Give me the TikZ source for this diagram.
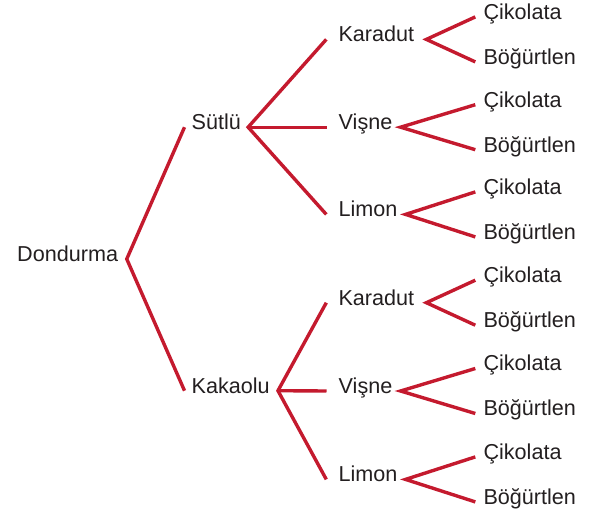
\documentclass[tikz,border=0pt]{standalone}
\usepackage{fontspec}
\setmainfont{Liberation Sans}
\definecolor{treered}{HTML}{C41A2E}
\definecolor{txtgray}{HTML}{231F20}
\begin{document}
\begin{tikzpicture}[x=1pt,y=-1pt,
  lbl/.style={anchor=base west, inner sep=0pt, text height=0.46em, text depth=0pt,
    text=txtgray, font=\fontsize{21.6}{26}\selectfont},
  br/.style={draw=treered, line width=3.4pt, line join=miter}]
\useasboundingbox (0,0) rectangle (607,511);
% levels
\node[lbl] (d) at (17,261.3) {Dondurma};
\node[lbl] (s) at (191.5,129.5) {Sütlü};
\node[lbl] (k) at (191.5,393) {Kakaolu};
\node[lbl] (s1) at (338.3,41.7) {Karadut};
\node[lbl] (s2) at (338.5,129.5) {Vişne};
\node[lbl] (s3) at (338.3,216.7) {Limon};
\node[lbl] (k1) at (338.3,305) {Karadut};
\node[lbl] (k2) at (338.5,393.3) {Vişne};
\node[lbl] (k3) at (338.3,481.7) {Limon};
% leaves
\foreach \p/\b in {s1/41.7, s2/129.5, s3/216.7, k1/305, k2/393.3, k3/481.7}{
  \node[lbl] (\p c) at (483.3,\b-22.5) {Çikolata};
  \node[lbl] (\p b) at (483.3,\b+22.5) {Böğürtlen};
}
% connectors
\draw[br] ([xshift=-7pt]s.west) -- ([xshift=8.5pt]d.east) -- ([xshift=-7pt]k.west);
\draw[br] ([xshift=-12pt]s1.west) -- ([xshift=7pt]s.east) -- ([xshift=-12pt]s3.west);
\draw[br] ([xshift=7pt]s.east) -- ([xshift=-12pt]s2.west);
\draw[br] ([xshift=-12pt]k1.west) -- ([xshift=8pt]k.east) -- ([xshift=-12pt]k3.west);
\draw[br] ([xshift=8pt]k.east) -- ([xshift=-12pt]k2.west);
\foreach \p/\g in {s1/12, s2/8, s3/8, k1/12, k2/8, k3/8}{
  \draw[br] ([xshift=-8pt]\p c.west) -- ([xshift=\g pt]\p.east) -- ([xshift=-8pt]\p b.west);
}
\end{tikzpicture}
\end{document}
